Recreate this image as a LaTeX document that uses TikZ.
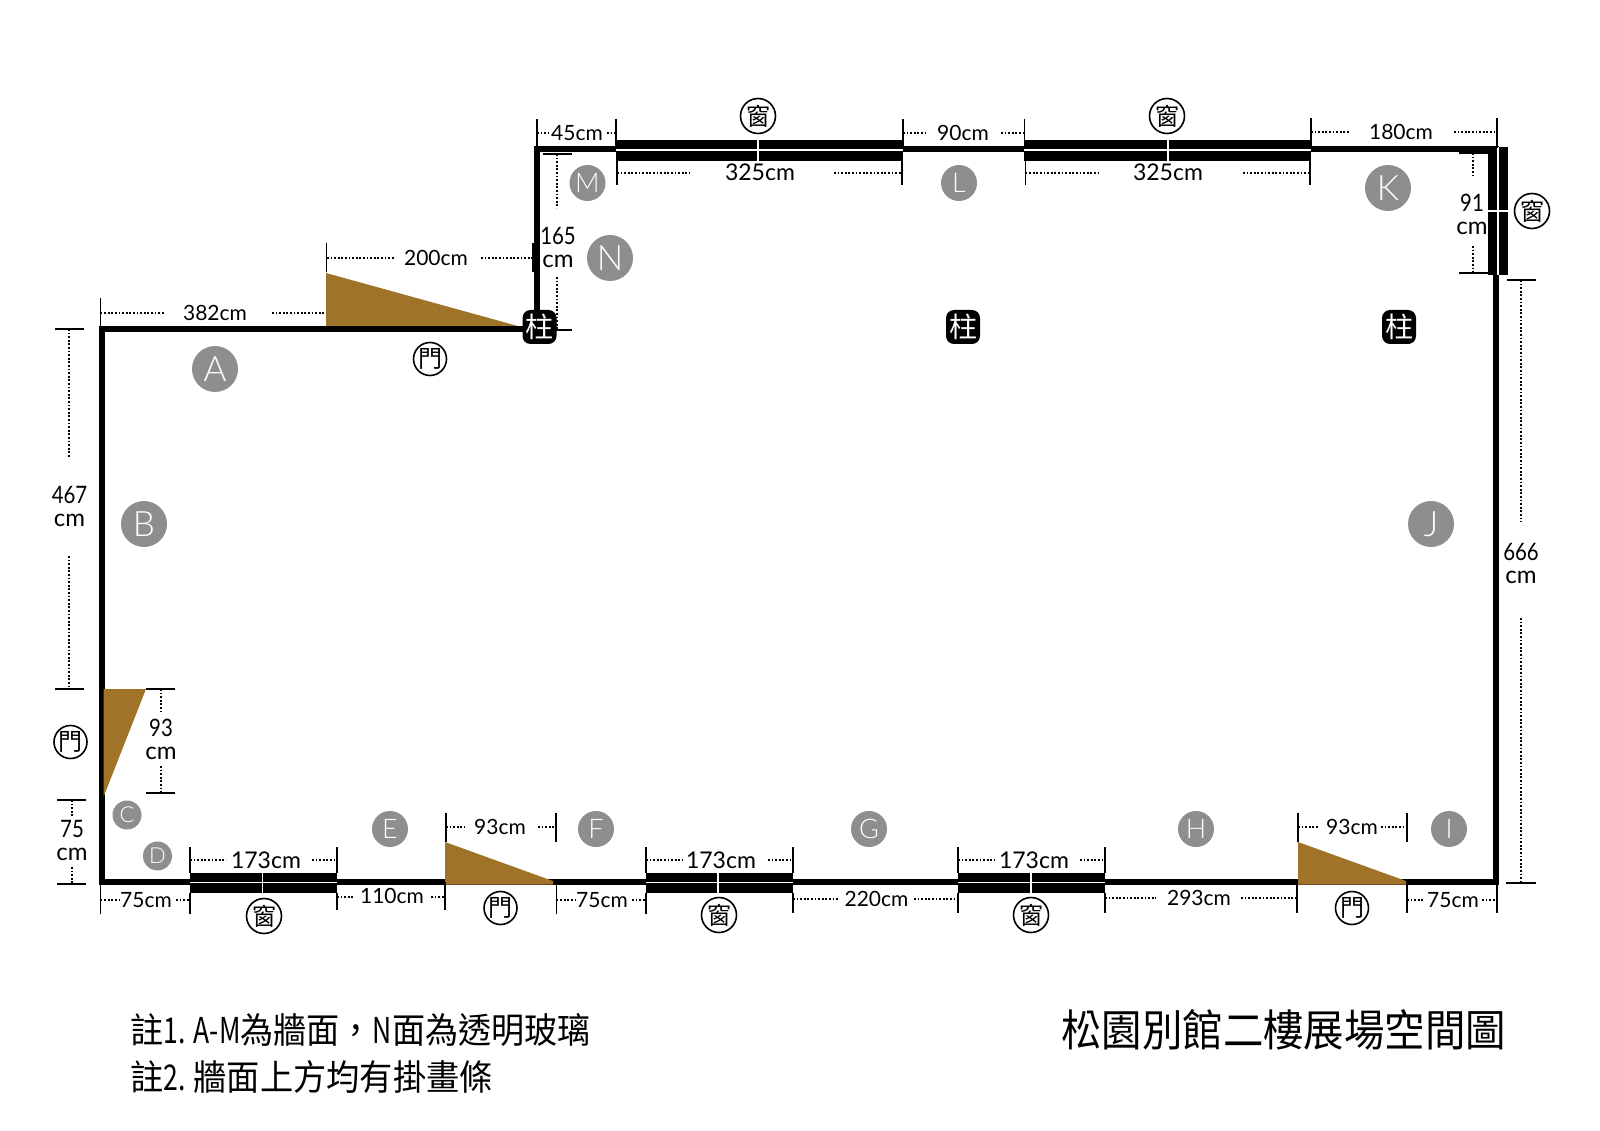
\documentclass[tikz,border=0pt]{standalone}
\usepackage{fontspec}
\setmainfont{Lato}
\newfontfamily\cjk{Noto Sans CJK TC}
\newfontfamily\lightf{Lato Light}
\definecolor{doorc}{HTML}{A07428}
\definecolor{labc}{HTML}{8E8E8E}
\tikzset{
 wall/.style={line width=5.5pt,line cap=rect},
 win/.style={fill=black,draw=none},
 gap/.style={white,line width=1.2pt},
 tick/.style={line width=1.5pt},
 dots/.style={line width=1.8pt,dash pattern=on 1.8pt off 1.8pt},
 door/.style={fill=doorc,draw=none},
 lab/.style={font=\fontsize{21}{24}\selectfont,inner sep=0pt,align=center},
 labw/.style={font=\fontsize{23}{24}\selectfont,inner sep=0pt,align=center},
 labv/.style={font=\fontsize{24}{24}\selectfont,inner sep=0pt,align=center},
 bigl/.style={circle,fill=labc,text=white,minimum size=46pt,inner sep=0pt,font=\lightf\fontsize{35}{35}\selectfont},
 midl/.style={circle,fill=labc,text=white,minimum size=36pt,inner sep=0pt,font=\lightf\fontsize{27}{27}\selectfont},
 smll/.style={circle,fill=labc,text=white,minimum size=29pt,inner sep=0pt,font=\lightf\fontsize{22}{22}\selectfont},
 sign/.style={circle,draw=black,line width=1.6pt,minimum size=33pt,inner sep=0pt,font=\cjk\fontsize{24}{24}\selectfont},
 signw/.style={sign,minimum size=35pt},
 pillar/.style={rectangle,rounded corners=8pt,fill=black,text=white,minimum size=34pt,inner sep=0pt,font=\cjk\fontsize{28}{28}\selectfont},
}
\newcommand{\hdim}[5]{% x1 x2 y x1end x2start
 \draw[dots] (#1,#3) -- (#4,#3); \draw[dots] (#5,#3) -- (#2,#3);}
\newcommand{\vdim}[5]{% y1 y2 x y1end y2start
 \draw[dots] (#3,#1) -- (#3,#4); \draw[dots] (#3,#5) -- (#3,#2);}
\newcommand{\htick}[3]{\draw[tick] (#1,#2) -- (#1,#3);}
\newcommand{\vtick}[3]{\draw[tick] (#2,#1) -- (#3,#1);}
\newcommand{\nar}[1]{\scalebox{.8}[1]{#1}}
\newcommand{\num}[1]{\scalebox{.85}[1]{#1}}
\begin{document}
\begin{tikzpicture}[x=1pt,y=-1pt]
\useasboundingbox (0,0) rectangle (1600,1131);
\fill[white] (0,0) rectangle (1600,1131);
% door behind the wall
\fill[door] (326,273) -- (326,328) -- (525,328) -- cycle;
% walls
\draw[wall] (102,329) -- (537,329) -- (537,149) -- (1496,149) -- (1496,882) -- (102,882) -- cycle;
% doors over the wall
\fill[door] (103.5,689) -- (146,689) -- (103.5,797) -- cycle;
\fill[door] (445,842) -- (445,884.5) -- (553,884.5) -- (553,881) -- cycle;
\fill[door] (1298,842) -- (1298,884.5) -- (1406,884.5) -- (1406,881) -- cycle;
% windows top
\foreach \a/\b/\m in {616/903/758,1024/1311/1168}{
 \fill[win] (\a,140) rectangle (\b,161);
 \draw[gap] (\a,150) -- (\b,150);
 \draw[gap] (\m,140) -- (\m,161);
}
% windows bottom
\foreach \a/\b/\m in {190/337/262.5,646/793/718,958/1105/1031}{
 \fill[win] (\a,873) rectangle (\b,893);
 \draw[gap] (\a,882.5) -- (\b,882.5);
 \draw[gap] (\m,873) -- (\m,893);
}
% window right
\fill[win] (1488,147) rectangle (1508,275);
\draw[white,line width=2pt] (1498,147) -- (1498,275);
\draw[gap] (1488,211) -- (1508,211);
% --- dimensions top
\htick{100.5}{298}{329}\htick{326.5}{243}{272}\htick{533}{243}{272}
\hdim{100.5}{326}{313}{165}{272}
\node[lab] (d382) at (215,313) {382cm};
\hdim{327}{533}{258}{394}{481}
\node[lab] (d200) at (436,258) {200cm};
\htick{537}{119}{148}\htick{616}{119}{148}
\hdim{537}{616}{133}{548}{607}
\node[lab] (d45) at (577,133) {45cm};
\htick{903}{119}{148}\htick{1024.5}{119}{148}
\hdim{903}{1024.5}{133}{926}{1001}
\node[lab] (d90) at (963,133) {90cm};
\htick{1311}{118}{148}\htick{1497}{118}{148}
\hdim{1311}{1497}{132}{1349}{1454}
\node[lab] (d180) at (1401,132) {180cm};
\htick{617}{161}{185}\htick{902}{161}{185}
\hdim{617}{902}{173}{690}{834}
\node[labw] (d325a) at (760,172) {325cm};
\htick{1025.5}{161}{185}\htick{1310}{161}{185}
\hdim{1025.5}{1310}{173}{1099}{1243}
\node[labw] (d325b) at (1168,172) {325cm};
% 165
\vtick{154}{543}{572}\vtick{330}{556}{572}
\vdim{154}{330}{557}{208}{277}
\node[labv] (d165) at (558,247) {\num{165}\\[-1pt]cm};
% 91
\vtick{153}{1459}{1488}\vtick{273}{1459}{1488}
\vdim{153}{273}{1473}{178}{246}
\node[labv] (d91) at (1472,214) {\num{91}\\[-1pt]cm};
% left
\vtick{329}{55}{84}\vtick{689}{55}{84}
\vdim{329}{689}{69}{457}{556}
\node[labv] (d467) at (69.5,506.5) {\num{467}\\[-1pt]cm};
\vtick{689}{146}{175}\vtick{793}{146}{175}
\vdim{689}{793}{161}{713}{766}
\node[labv] (d93l) at (161,739) {\num{93}\\[-1pt]cm};
\vtick{800}{57}{86}\vtick{884}{57}{86}
\vdim{800}{884}{72}{817}{867}
\node[labv] (d75l) at (72,840) {\num{75}\\[-1pt]cm};
% right
\vtick{280}{1507}{1536}\vtick{883}{1506}{1536}
\vdim{280}{883}{1521}{522}{618}
\node[labv] (d666) at (1521,563) {\num{666}\\[-1pt]cm};
% bottom, above
\foreach \a/\b/\e/\s/\m in {190/337/226/312/266,646/793/683/768/721,958/1105/995/1080/1034}{
 \htick{\a}{847}{873}\htick{\b}{847}{873}
 \hdim{\a}{\b}{860}{\e}{\s}
}
\node[labw] (d173a) at (266,860) {173cm};
\node[labw] (d173b) at (721,860) {173cm};
\node[labw] (d173c) at (1034,860) {173cm};
\htick{446}{813}{842}\htick{556}{813}{842}
\hdim{446}{556}{827}{465}{538}
\node[lab] (d93a) at (500,827) {93cm};
\htick{1298}{813}{842}\htick{1407}{813}{842}
\hdim{1298}{1407}{827}{1319}{1381}
\node[lab] (d93b) at (1352,827) {93cm};
% bottom, below
\htick{100.5}{882}{914}\htick{190}{893}{914}
\hdim{100.5}{190}{900}{120}{176}
\node[lab] (d75a) at (146,900) {75cm};
\htick{337}{893}{910}\htick{445}{882}{910}
\hdim{337}{445}{897}{353}{431}
\node[lab] (d110) at (392,896) {110cm};
\htick{556.5}{882}{914}\htick{646}{893}{914}
\hdim{556.5}{646}{900}{576}{632}
\node[lab] (d75b) at (602,900) {75cm};
\htick{793}{893}{913}\htick{958}{893}{913}
\hdim{793}{958}{899}{839}{914}
\node[lab] (d220) at (876.5,899) {220cm};
\htick{1105}{893}{913}\htick{1297}{882}{913}
\hdim{1105}{1297}{898}{1156}{1241}
\node[lab] (d293) at (1199,898) {293cm};
\htick{1407}{882}{913}\htick{1497}{882}{913}
\hdim{1407}{1497}{900}{1424}{1482}
\node[lab] (d75c) at (1453,900) {75cm};
% letters
\node[bigl] (A) at (215,369) {A};
\node[bigl] (B) at (144,524) {B};
\node[bigl] (J) at (1431,524) {J};
\node[bigl] (K) at (1388,188) {K};
\node[bigl] (N) at (610,258) {N};
\node[midl] (M) at (587.5,183) {M};
\node[midl] (L) at (959,183) {L};
\node[midl] (E) at (390,829) {E};
\node[midl] (F) at (596,829) {F};
\node[midl] (G) at (869,829) {G};
\node[midl] (H) at (1196,829) {H};
\node[midl] (I) at (1449,829) {I};
\node[smll] (C) at (127,815) {C};
\node[smll] (D) at (157.5,856) {D};
% signs
\node[sign] (m1) at (430,359) {門};
\node[sign] (m2) at (70.5,742) {門};
\node[sign] (m3) at (500.5,908) {門};
\node[sign] (m4) at (1352,908) {門};
\node[signw] (w1) at (758,116) {窗};
\node[signw] (w2) at (1167,116) {窗};
\node[signw] (w3) at (1532,211) {窗};
\node[signw] (w4) at (264,916) {窗};
\node[signw] (w5) at (719,915) {窗};
\node[signw] (w6) at (1031,915) {窗};
% pillars
\node[pillar] (p1) at (539.5,327) {柱};
\node[pillar] (p2) at (963,327) {柱};
\node[pillar] (p3) at (1399,327) {柱};
% notes
\node[anchor=west,inner sep=0pt] (n1) at (130.5,1030) {\resizebox{460pt}{30pt}{\cjk 註\nar{1. A-M}為牆面，\nar{N}面為透明玻璃}};
\node[anchor=west,inner sep=0pt] (n2) at (130.5,1077) {\resizebox{362pt}{30pt}{\cjk 註\nar{2.} 牆面上方均有掛畫條}};
\node[anchor=west,inner sep=0pt] (title) at (1061,1030) {\resizebox{445pt}{37pt}{\cjk 松園別館二樓展場空間圖}};
\end{tikzpicture}
\end{document}
